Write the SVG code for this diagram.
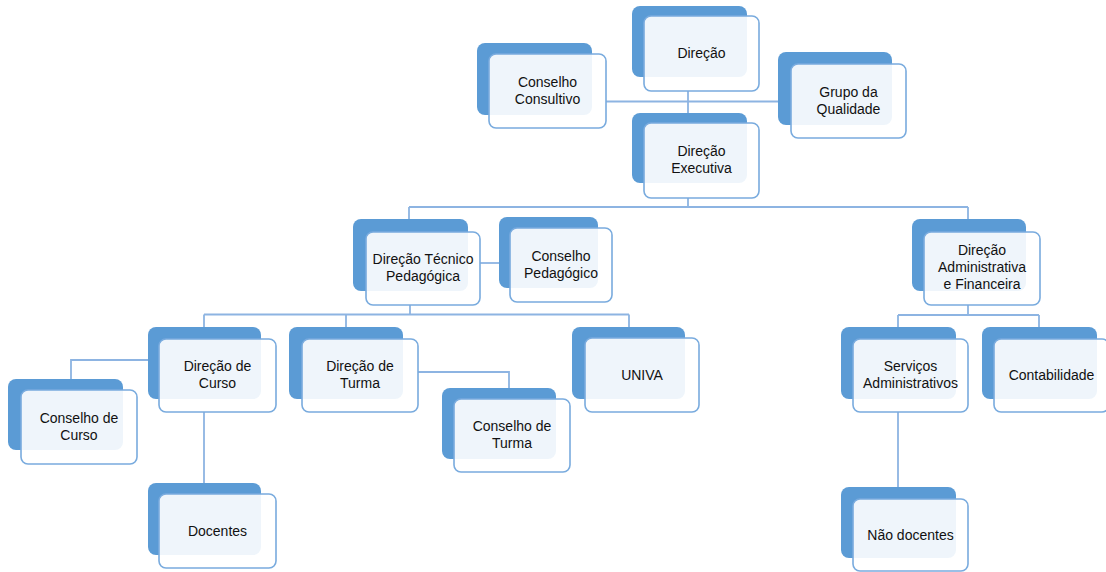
<svg xmlns="http://www.w3.org/2000/svg" width="1106" height="572" viewBox="0 0 1106 572">
<style>
.bk{fill:#5B9BD5;}
.fr{fill:#ffffff;fill-opacity:0.9;stroke:#79ABDE;stroke-width:1.6;}
.t{font-family:"Liberation Sans",Arial,sans-serif;font-size:14px;fill:#111111;text-anchor:middle;}
.c{fill:none;stroke:#8DB4E2;stroke-width:1.8;}
</style>
<rect width="1106" height="572" fill="#ffffff"/>
<g id="connectors">
<path class="c" d="M688 91V123"/>
<path class="c" d="M606 101.5H778"/>
<path class="c" d="M688 198V207M409 207H968M409 207V219M968 207V219"/>
<path class="c" d="M480 263H499"/>
<path class="c" d="M410 305V314.5M204 314.5H629M204 314.5V327M346 314.5V327M629 314.5V327"/>
<path class="c" d="M148 360H71V379"/>
<path class="c" d="M418 372H509V388"/>
<path class="c" d="M204 412V483"/>
<path class="c" d="M968 305V315M898 315H1039M898 315V327M1039 315V327"/>
<path class="c" d="M898 412V487"/>
</g>
<g id="direcao">
<rect class="bk" x="632" y="6" width="115" height="71" rx="8"/>
<rect class="fr" x="644" y="16" width="115" height="75" rx="7"/>
<text class="t" x="701.5" y="58">Direção</text>
</g>
<g id="conselho-consultivo">
<rect class="bk" x="477" y="43" width="115" height="72" rx="8"/>
<rect class="fr" x="489" y="54" width="117" height="74" rx="7"/>
<text class="t" x="547.5" y="87">Conselho</text>
<text class="t" x="547.5" y="104">Consultivo</text>
</g>
<g id="grupo-qualidade">
<rect class="bk" x="778" y="52" width="114" height="73" rx="8"/>
<rect class="fr" x="791" y="64" width="115" height="74" rx="7"/>
<text class="t" x="848.5" y="97">Grupo da</text>
<text class="t" x="848.5" y="114">Qualidade</text>
</g>
<g id="direcao-executiva">
<rect class="bk" x="632" y="113" width="115" height="70" rx="8"/>
<rect class="fr" x="644" y="123" width="115" height="75" rx="7"/>
<text class="t" x="701.5" y="156">Direção</text>
<text class="t" x="701.5" y="173">Executiva</text>
</g>
<g id="direcao-tecnico-pedagogica">
<rect class="bk" x="353" y="219" width="115" height="72" rx="8"/>
<rect class="fr" x="366" y="232" width="114" height="73" rx="7"/>
<text class="t" x="423" y="264">Direção Técnico</text>
<text class="t" x="423" y="281">Pedagógica</text>
</g>
<g id="conselho-pedagogico">
<rect class="bk" x="499" y="217" width="99" height="71" rx="8"/>
<rect class="fr" x="510" y="228" width="102" height="74" rx="7"/>
<text class="t" x="561" y="260.5">Conselho</text>
<text class="t" x="561" y="277.5">Pedagógico</text>
</g>
<g id="direcao-administrativa">
<rect class="bk" x="912" y="219" width="114" height="72" rx="8"/>
<rect class="fr" x="924" y="232" width="116" height="73" rx="7"/>
<text class="t" x="982" y="255">Direção</text>
<text class="t" x="982" y="272">Administrativa</text>
<text class="t" x="982" y="289">e Financeira</text>
</g>
<g id="direcao-curso">
<rect class="bk" x="148" y="327" width="113" height="72" rx="8"/>
<rect class="fr" x="159" y="339" width="117" height="73" rx="7"/>
<text class="t" x="217.5" y="371">Direção de</text>
<text class="t" x="217.5" y="388">Curso</text>
</g>
<g id="direcao-turma">
<rect class="bk" x="289" y="327" width="114" height="72" rx="8"/>
<rect class="fr" x="302" y="339" width="116" height="73" rx="7"/>
<text class="t" x="360" y="371">Direção de</text>
<text class="t" x="360" y="388">Turma</text>
</g>
<g id="univa">
<rect class="bk" x="572" y="327" width="113" height="72" rx="8"/>
<rect class="fr" x="585" y="338" width="114" height="74" rx="7"/>
<text class="t" x="642" y="380">UNIVA</text>
</g>
<g id="conselho-turma">
<rect class="bk" x="442" y="388" width="114" height="71" rx="8"/>
<rect class="fr" x="454" y="399" width="116" height="73" rx="7"/>
<text class="t" x="512" y="431">Conselho de</text>
<text class="t" x="512" y="448">Turma</text>
</g>
<g id="conselho-curso">
<rect class="bk" x="8" y="379" width="115" height="71" rx="8"/>
<rect class="fr" x="21" y="390" width="116" height="74" rx="7"/>
<text class="t" x="79" y="422.5">Conselho de</text>
<text class="t" x="79" y="439.5">Curso</text>
</g>
<g id="docentes">
<rect class="bk" x="148" y="483" width="113" height="72" rx="8"/>
<rect class="fr" x="159" y="494" width="117" height="74" rx="7"/>
<text class="t" x="217.5" y="536">Docentes</text>
</g>
<g id="servicos-administrativos">
<rect class="bk" x="841" y="327" width="115" height="72" rx="8"/>
<rect class="fr" x="853" y="339" width="115" height="73" rx="7"/>
<text class="t" x="910.5" y="371">Serviços</text>
<text class="t" x="910.5" y="388">Administrativos</text>
</g>
<g id="contabilidade">
<rect class="bk" x="982" y="327" width="115" height="72" rx="8"/>
<rect class="fr" x="994" y="339" width="115" height="73" rx="7"/>
<text class="t" x="1051.5" y="380">Contabilidade</text>
</g>
<g id="nao-docentes">
<rect class="bk" x="841" y="487" width="115" height="71" rx="8"/>
<rect class="fr" x="853" y="499" width="115" height="72" rx="7"/>
<text class="t" x="910.5" y="540">Não docentes</text>
</g>
</svg>
